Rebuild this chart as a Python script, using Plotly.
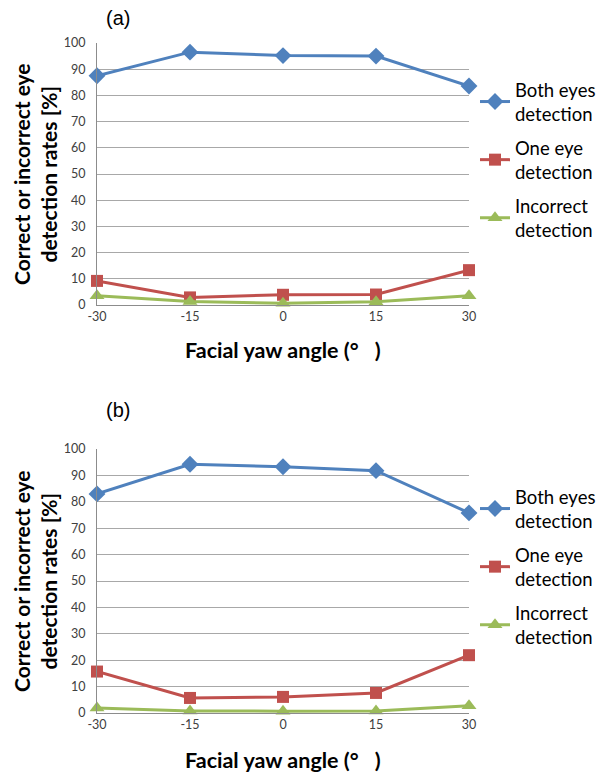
import plotly.graph_objects as go

angles = [-30, -15, 0, 15, 30]
tick_labels = ["-30", "-15", "0", "15", "30"]

a_both = [87.5, 96.5, 95.2, 95.0, 83.6]
a_one = [9.2, 2.9, 3.9, 4.0, 13.3]
a_incorrect = [3.5, 1.3, 0.7, 1.2, 3.5]

b_both = [83.0, 94.2, 93.3, 91.8, 75.8]
b_one = [15.7, 5.7, 6.1, 7.6, 21.9]
b_incorrect = [1.9, 0.8, 0.7, 0.8, 2.7]

series_names = ["Both eyes<br>detection", "One eye<br>detection", "Incorrect<br>detection"]
colors = ["#4F81BD", "#C0504D", "#9BBB59"]
symbols = ["diamond", "square", "triangle-up"]
sizes = [13, 12, 13]

W, H = 610, 773
FONT = "Lato"

fig = go.Figure()

panels = [
    ("x", "y", "legend", "a", [a_both, a_one, a_incorrect]),
    ("x2", "y2", "legend2", "b", [b_both, b_one, b_incorrect]),
]
for xa, ya, lg, tag, data in panels:
    for i, (name, vals, c, s, sz) in enumerate(zip(series_names, data, colors, symbols, sizes)):
        fig.add_trace(go.Scatter(
            x=angles, y=vals, name=name, xaxis=xa, yaxis=ya, legend=lg,
            legendgroup=f"{tag}{i}",
            mode="lines+markers", cliponaxis=False,
            line=dict(color=c, width=3),
            marker=dict(symbol=s, size=sz, color=c),
        ))

def px_x(p):
    return p / W

def px_y(p):
    return 1 - p / H

left, right = 97, 469
a_top, a_bot = 43, 305
b_top, b_bot = 449, 713

axis_common = dict(
    showgrid=False, zeroline=False, showline=True, linecolor="#8c8c8c", linewidth=1,
    tickfont=dict(family=FONT, size=12.5, color="#404040"), ticks="", automargin=False,
)
yaxis_common = dict(
    range=[0, 100], dtick=10, showgrid=True, gridcolor="#a8a8a8", gridwidth=1.3,
    zeroline=False, showline=True, linecolor="#8c8c8c", linewidth=1, automargin=False,
    tickfont=dict(family=FONT, size=12.5, color="#404040"), ticks="", ticklabelstandoff=8,
)

legend_common = dict(
    xanchor="left", yanchor="top",
    font=dict(family=FONT, size=18.5, color="#000000"),
    bgcolor="rgba(0,0,0,0)", itemwidth=30, tracegroupgap=7,
)

fig.update_layout(
    width=W, height=H,
    margin=dict(l=0, r=0, t=0, b=0, pad=0, autoexpand=False),
    paper_bgcolor="white", plot_bgcolor="white",
    font=dict(family=FONT),
    xaxis=dict(domain=[px_x(left), px_x(right)], anchor="y", range=[-30, 30],
               tickvals=angles, ticktext=tick_labels, **axis_common),
    yaxis=dict(domain=[px_y(a_bot), px_y(a_top)], anchor="x", **yaxis_common),
    xaxis2=dict(domain=[px_x(left), px_x(right)], anchor="y2", range=[-30, 30],
                tickvals=angles, ticktext=tick_labels, **axis_common),
    yaxis2=dict(domain=[px_y(b_bot), px_y(b_top)], anchor="x2", **yaxis_common),
    legend=dict(x=px_x(475), y=px_y(71), **legend_common),
    legend2=dict(x=px_x(475), y=px_y(478), **legend_common),
    showlegend=True,
)

ytitle = "<b>Correct or incorrect eye<br>detection rates [%]</b>"
xtitle = "<b>Facial yaw angle (°\u2003)</b>"
annotations = [
    dict(text="(a)", x=px_x(118), y=px_y(18), showarrow=False, xanchor="center", yanchor="middle",
         font=dict(family="Liberation Sans", size=20, color="#000000")),
    dict(text="(b)", x=px_x(118), y=px_y(410), showarrow=False, xanchor="center", yanchor="middle",
         font=dict(family="Liberation Sans", size=20, color="#000000")),
    dict(text=ytitle, x=px_x(35), y=px_y((a_top + a_bot) / 2), textangle=-90, showarrow=False,
         xanchor="center", yanchor="middle", font=dict(family=FONT, size=21, color="#000000")),
    dict(text=ytitle, x=px_x(35), y=px_y((b_top + b_bot) / 2), textangle=-90, showarrow=False,
         xanchor="center", yanchor="middle", font=dict(family=FONT, size=21, color="#000000")),
    dict(text=xtitle, x=px_x((left + right) / 2), y=px_y(350), showarrow=False,
         xanchor="center", yanchor="middle", font=dict(family=FONT, size=21.5, color="#000000")),
    dict(text=xtitle, x=px_x((left + right) / 2), y=px_y(760), showarrow=False,
         xanchor="center", yanchor="middle", font=dict(family=FONT, size=21.5, color="#000000")),
]
for an in annotations:
    an.update(xref="paper", yref="paper")
fig.update_layout(annotations=annotations)

fig.write_html("out.html", config={"displayModeBar": False},
               post_script="document.body.style.margin='0px';")
